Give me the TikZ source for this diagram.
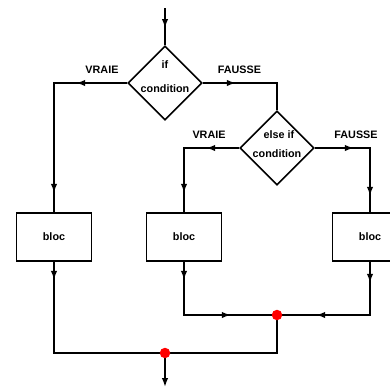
\documentclass[tikz,border=0pt]{standalone}
\usepackage{fontspec}
\setmainfont{Liberation Sans}
\usetikzlibrary{shapes.geometric,arrows.meta,decorations.markings}
\newcommand\myah{\arrow{Latex[length=9pt,width=6.5pt]}}
\begin{document}
\begin{tikzpicture}[x=1pt,y=-1pt,
  ln/.style={line width=1.6pt, line join=miter},
  diam/.style={draw, diamond, aspect=1, minimum size=74pt, inner sep=0pt, line width=1.6pt},
  box/.style={draw, rectangle, minimum width=75pt, minimum height=48pt, inner sep=0pt, line width=1.6pt, font=\bfseries\fontsize{10.8}{13}\selectfont},
  lbl/.style={inner sep=0pt, font=\bfseries\fontsize{10.8}{13}\selectfont},
  dot/.style={circle, fill=red, minimum size=10.5pt, inner sep=0pt},
  m1/.style={postaction={decorate, decoration={markings, mark=at position #1 with {\myah}}}},
]
\useasboundingbox (0,0) rectangle (390,388);

% nodes
\coordinate (S) at (165,8);
\node[diam] (D1) at (165,83) {};
\node[diam] (D2) at (277,148) {};
\node[box] (B1) at (54,237) {bloc};
\node[box] (B2) at (184,237) {bloc};
\node[box] (B3) at (370,237) {bloc};
\coordinate (C1) at (54,83);
\coordinate (C2) at (277,83);
\coordinate (C3) at (184,148);
\coordinate (C4) at (370,148);
\coordinate (C5) at (54,353);
\coordinate (C6) at (184,315);
\coordinate (C7) at (370,315);
\coordinate (C8) at (277,353);
\coordinate (E) at (165,387);
\coordinate (J1p) at (165,353);
\coordinate (J2p) at (277,315);

% labels
\node[lbl] (tif) at (165,65) {if};
\node[lbl] (tc1) at (165,89) {condition};
\node[lbl] (tei) at (279,135) {else if};
\node[lbl] (tc2) at (277,154) {condition};
\node[lbl] (v1) at (102,70) {VRAIE};
\node[lbl] (f1) at (239.5,70) {FAUSSE};
\node[lbl] (v2) at (209,135) {VRAIE};
\node[lbl] (f2) at (356,135) {FAUSSE};

% connectors
\draw[ln, m1=20pt] (S) -- (D1.north);
\draw[ln, postaction={decorate, decoration={markings, mark=at position 51pt with {\myah}, mark=at position 183pt with {\myah}}}]
  (D1.west) -- (C1) -- (B1.north);
\draw[ln, m1=33pt] (D1.east) -- (C2) -- (D2.north);
\draw[ln, postaction={decorate, decoration={markings, mark=at position 33pt with {\myah}, mark=at position 100pt with {\myah}}}]
  (D2.west) -- (C3) -- (B2.north);
\draw[ln, postaction={decorate, decoration={markings, mark=at position 39pt with {\myah}, mark=at position 103pt with {\myah}}}]
  (D2.east) -- (C4) -- (B3.north);
\draw[ln, m1=18pt] (B1.south) -- (C5) -- (J1p);
\draw[ln, postaction={decorate, decoration={markings, mark=at position 18pt with {\myah}, mark=at position 100pt with {\myah}}}]
  (B2.south) -- (C6) -- (J2p);
\draw[ln, postaction={decorate, decoration={markings, mark=at position 21pt with {\myah}, mark=at position 107pt with {\myah}}}]
  (B3.south) -- (C7) -- (J2p);
\draw[ln] (J2p) -- (C8) -- (J1p);
\draw[ln, -{Latex[length=9pt,width=6.5pt]}] (J1p) -- (E);

% junction dots
\node[dot] (J1) at (J1p) {};
\node[dot] (J2) at (J2p) {};
\end{tikzpicture}
\end{document}
